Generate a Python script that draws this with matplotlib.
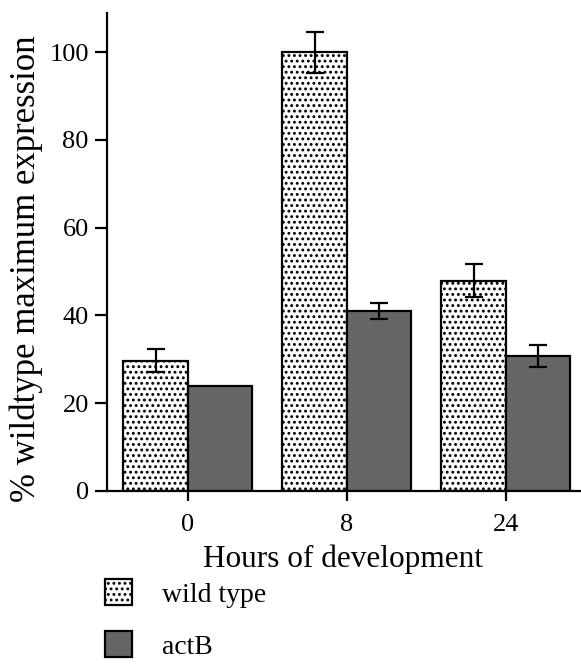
import numpy as np
import matplotlib
matplotlib.use("Agg")
import matplotlib.pyplot as plt

plt.rcParams['font.family'] = ['Liberation Serif', 'DejaVu Serif']
plt.rcParams['hatch.linewidth'] = 1.3
plt.rcParams['hatch.color'] = '#444444'

hours = ["0", "8", "24"]
wild_type = [29.7, 100.0, 47.9]
wild_type_err = [2.6, 4.7, 3.7]
actB = [24.0, 41.0, 30.8]
actB_err = [0.0, 1.9, 2.5]

fig = plt.figure(figsize=(5.81, 6.66), dpi=100)
ax = fig.add_axes([0.184, 0.263, 0.814, 0.718])

x = np.arange(len(hours))
w = 0.405
b1 = ax.bar(x - w/2, wild_type, w, color='white', edgecolor='black',
            linewidth=1.6, hatch='...', label='wild type', zorder=2)
b2 = ax.bar(x + w/2, actB, w, color='#666666', edgecolor='black',
            linewidth=1.6, label='actB', zorder=2)

wt_err = np.array(wild_type_err)
ab_err = np.array(actB_err)
ax.errorbar(x - w/2, wild_type, yerr=wt_err, fmt='none', ecolor='black',
            elinewidth=1.6, capsize=6.5, capthick=1.6, zorder=3)
m = ab_err > 0
ax.errorbar((x + w/2)[m], np.array(actB)[m], yerr=ab_err[m], fmt='none',
            ecolor='black', elinewidth=1.6, capsize=6.5, capthick=1.6, zorder=3)

ax.set_xlim(-0.509, 2.465)
ax.set_ylim(0, 109)
ax.set_yticks([0, 20, 40, 60, 80, 100])
ax.set_xticks(x)
ax.set_xticklabels(hours)
for s in ['top', 'right']:
    ax.spines[s].set_visible(False)
for s in ['left', 'bottom']:
    ax.spines[s].set_linewidth(1.6)
ax.tick_params(axis='y', direction='out', length=9, width=1.6, labelsize=19, pad=4)
ax.tick_params(axis='x', direction='out', length=7, width=1.6, labelsize=19, pad=10)
ax.set_xlabel("Hours of development", fontsize=22.5, labelpad=6)
ax.set_ylabel("% wildtype maximum expression", fontsize=25)
ax.yaxis.set_label_coords(-0.135, 0.465)

fig.legend(handles=[b1, b2], labels=['wild type', 'actB'],
           loc='upper left', bbox_to_anchor=(0.18, 0.13), frameon=False,
           fontsize=20, handlelength=1.0, handleheight=1.05, labelspacing=0.85,
           handletextpad=1.05, borderpad=0, borderaxespad=0)

fig.savefig("out.png", dpi=100)
